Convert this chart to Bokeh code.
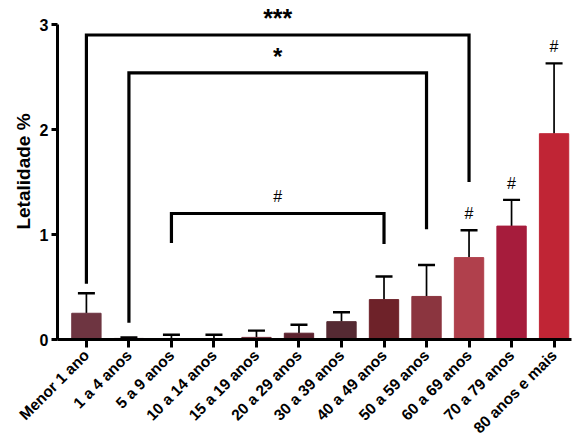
import math
from bokeh.plotting import figure
from bokeh.models import Range1d, FixedTicker, ColumnDataSource, Whisker, TeeHead
from bokeh.core.properties import value
from bokeh.embed import file_html
from bokeh.resources import INLINE

categories = ["Menor 1 ano", "1 a 4 anos", "5 a 9 anos", "10 a 14 anos", "15 a 19 anos",
              "20 a 29 anos", "30 a 39 anos", "40 a 49 anos", "50 a 59 anos",
              "60 a 69 anos", "70 a 79 anos", "80 anos e mais"]
letalidade = [0.25, 0.01, 0.0, 0.0, 0.02, 0.06, 0.17, 0.38, 0.41, 0.78, 1.08, 1.96]
erro_sup = [0.44, 0.02, 0.045, 0.045, 0.085, 0.14, 0.26, 0.60, 0.71, 1.04, 1.33, 2.63]
cores = ["#6e3541", "#5a1f2c", "#5a1f2c", "#5a1f2c", "#6a2a35", "#5c222e",
         "#552a33", "#6e2229", "#8b353f", "#b0404c", "#a61c3c", "#c02535"]
y_ticks = [0, 1, 2, 3]

# significance brackets: (left bar, right bar, top, left leg bottom, right leg bottom, label)
br_left = [0, 1, 2]
br_right = [9, 8, 7]
br_top = [2.90, 2.54, 1.20]
br_left_bottom = [0.53, 0.16, 0.92]
br_right_bottom = [1.50, 1.05, 0.91]
br_label = ["***", "*", "#"]
br_size = ["25px", "24px", "16px"]
hash_bars = [9, 10, 11]

FONT = "Liberation Sans"
x = list(range(len(categories)))

p = figure(width=574, height=446, output_backend="svg", toolbar_location=None,
           x_range=Range1d(-0.68, 11.41), y_range=Range1d(0, 3.2),
           min_border_left=57, min_border_right=3, min_border_top=3, min_border_bottom=107)
p.outline_line_color = None
p.xgrid.grid_line_color = None
p.ygrid.grid_line_color = None

src = ColumnDataSource(dict(x=x, top=letalidade, upper=erro_sup, color=cores,
                            lower=letalidade))
p.vbar(x="x", top="top", width=0.69, bottom=0, color="color", source=src)

w = Whisker(base="x", lower="lower", upper="upper", source=src, dimension="height",
            line_color="black", line_width=1.7,
            upper_head=TeeHead(size=17, line_width=2.4, line_color="black"), lower_head=None)
p.add_layout(w)

# brackets
xs, ys = [], []
for l, r, t, lb, rb in zip(br_left, br_right, br_top, br_left_bottom, br_right_bottom):
    xs.append([l, l, r, r])
    ys.append([lb, t, t, rb])
p.multi_line(xs, ys, line_color="black", line_width=3.2, line_join="miter")
for l, r, t, lab, sz in zip(br_left, br_right, br_top, br_label, br_size):
    bold = "bold" if lab != "#" else "normal"
    off = -3 if lab != "#" else -9
    p.text(x=[(l + r) / 2], y=[t], text=[lab], text_align="center", text_baseline="bottom",
           y_offset=off, text_font=value(FONT), text_font_size=sz, text_font_style=bold,
           text_color="black")

p.text(x=[x[i] for i in hash_bars], y=[erro_sup[i] for i in hash_bars],
       text=["#"] * len(hash_bars), text_align="center", text_baseline="bottom",
       y_offset=-8, text_font=value(FONT), text_font_size="16px", text_color="black")

# axes
p.yaxis.ticker = FixedTicker(ticks=y_ticks)
p.yaxis.bounds = (0, 3)
p.yaxis.axis_label = "Letalidade %"
p.yaxis.axis_label_text_font = FONT
p.yaxis.axis_label_text_font_size = "19px"
p.yaxis.axis_label_text_font_style = "bold"
p.yaxis.axis_label_text_color = "black"
p.yaxis.axis_label_standoff = 3
p.yaxis.major_label_text_font = FONT
p.yaxis.major_label_text_font_size = "16px"
p.yaxis.major_label_text_font_style = "bold"
p.yaxis.major_label_text_color = "black"
p.yaxis.axis_line_width = 3
p.yaxis.major_tick_line_width = 3
p.yaxis.major_tick_out = 6
p.yaxis.major_tick_in = 0
p.yaxis.minor_tick_line_color = None
p.yaxis.major_label_standoff = 3

p.xaxis.ticker = FixedTicker(ticks=x)
p.xaxis.major_label_overrides = {i: c for i, c in enumerate(categories)}
p.xaxis.major_label_orientation = math.pi / 4
p.xaxis.major_label_text_font = FONT
p.xaxis.major_label_text_font_size = "15.5px"
p.xaxis.major_label_text_font_style = "bold"
p.xaxis.major_label_text_color = "black"
p.xaxis.axis_line_width = 3
p.xaxis.major_tick_line_width = 3
p.xaxis.major_tick_out = 8
p.xaxis.major_tick_in = 0
p.xaxis.minor_tick_line_color = None
p.xaxis.major_label_standoff = 5

open("out.html", "w").write(file_html(p, INLINE))
